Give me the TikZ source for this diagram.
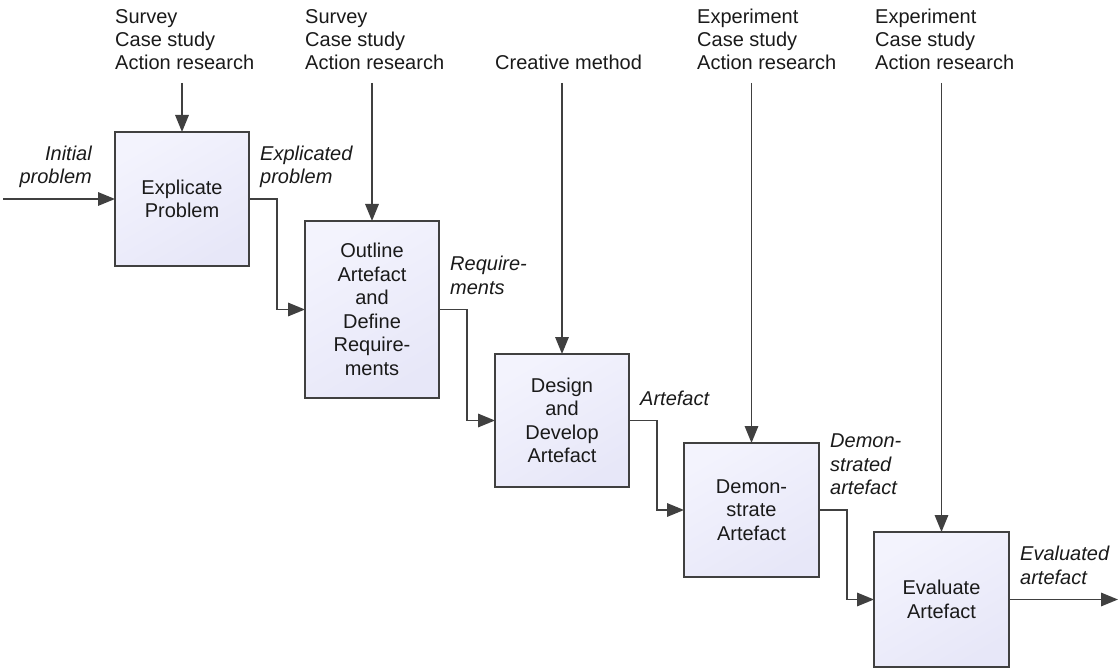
\documentclass[tikz,border=0pt]{standalone}
\usepackage{fontspec}
\setmainfont{Liberation Sans}
\usetikzlibrary{arrows.meta}
\definecolor{edge}{HTML}{404040}
\definecolor{ink}{HTML}{1A1A1A}
\definecolor{fillA}{HTML}{F3F3FD}
\definecolor{fillB}{HTML}{E7E7F8}
\begin{document}
\begin{tikzpicture}[x=1pt,y=-1pt,
  every node/.style={font=\fontsize{20}{23.5}\selectfont, text=ink},
  stepbox/.style={rectangle, draw=edge, line width=2pt,
    top color=fillA, bottom color=fillB, shading angle=30,
    minimum width=134pt, inner sep=0pt, outer sep=0pt, align=center},
  flow/.style={draw=edge, line width=1.6pt, -{Triangle[length=17pt,width=13.5pt]}},
  method/.style={align=left, inner sep=0pt, anchor=south west, text depth=4pt,
    font=\fontsize{20}{23}\selectfont},
  product/.style={font=\fontsize{20}{23.5}\selectfont\itshape, inner sep=0pt, text depth=4pt},
]
\useasboundingbox (0,0) rectangle (1119,668);

% process steps
\node[stepbox, minimum height=134pt] (b1) at (182,199) {Explicate\\Problem};
\node[stepbox, minimum height=177pt] (b2) at (372,309.5) {Outline\\Artefact\\and\\Define\\Require-\\ments};
\node[stepbox, minimum height=133pt] (b3) at (562,420.5) {Design\\and\\Develop\\Artefact};
\node[stepbox, minimum height=134pt, minimum width=135pt] (b4) at (751.5,510) {Demon-\\strate\\Artefact};
\node[stepbox, minimum height=135pt, minimum width=135pt] (b5) at (941.5,599.5) {Evaluate\\Artefact};

% research methods feeding each step
\node[method] (m1) at (115,74) {Survey\\Case study\\Action research};
\node[method] (m2) at (305,74) {Survey\\Case study\\Action research};
\node[method] (m3) at (495,74) {Creative method};
\node[method] (m4) at (697,74) {Experiment\\Case study\\Action research};
\node[method] (m5) at (875,74) {Experiment\\Case study\\Action research};

\coordinate (t1) at (182,83);
\coordinate (t2) at (372,83);
\coordinate (t3) at (562,83);
\coordinate (t4) at (751.5,83);
\coordinate (t5) at (941.5,83);
\draw[flow] (t1) -- (b1.north);
\draw[flow] (t2) -- (b2.north);
\draw[flow] (t3) -- (b3.north);
\draw[flow] (t4) -- (b4.north);
\draw[flow] (t5) -- (b5.north);

% main flow between the steps
\coordinate (in) at (3,199);
\coordinate (out) at (1118,599.5);
\draw[flow] (in) -- (b1.west);
\draw[flow] (b1.east) -- ++(28,0) |- (b2.west);
\draw[flow] (b2.east) -- ++(28,0) |- (b3.west);
\draw[flow] (b3.east) -- ++(28,0) |- (b4.west);
\draw[flow] (b4.east) -- ++(28,0) |- (b5.west);
\draw[flow] (b5.east) -- (out);

% intermediate products
\node[product, align=right, anchor=south east] (p0) at ([xshift=-23pt,yshift=11pt]b1.west) {Initial\\problem};
\node[product, align=left, anchor=south west] (p1) at ([xshift=11pt,yshift=11pt]b1.east) {Explicated\\problem};
\node[product, align=left, anchor=south west] (p2) at ([xshift=11pt,yshift=11pt]b2.east) {Require-\\ments};
\node[product, align=left, anchor=south west] (p3) at ([xshift=11pt,yshift=11pt]b3.east) {Artefact};
\node[product, align=left, anchor=south west] (p4) at ([xshift=11pt,yshift=11pt]b4.east) {Demon-\\strated\\artefact};
\node[product, align=left, anchor=south west] (p5) at ([xshift=11pt,yshift=11pt]b5.east) {Evaluated\\artefact};
\end{tikzpicture}
\end{document}
